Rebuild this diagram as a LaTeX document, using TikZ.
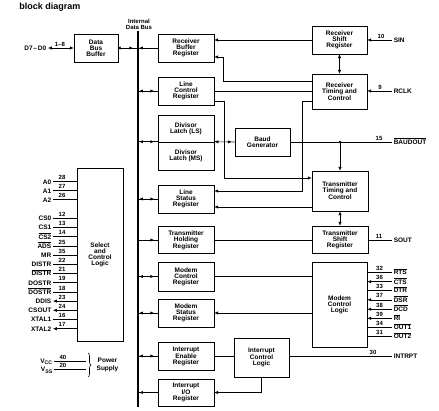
\documentclass[tikz,border=0pt]{standalone}
\usepackage{fontspec}
\setmainfont{Liberation Sans}
\usetikzlibrary{arrows.meta,decorations.markings,decorations.pathreplacing}
\newcommand{\ovl}[1]{$\overline{\mbox{#1}}$}
\newcommand{\bxf}{\fontsize{6.5}{6}\selectfont\bfseries}
\newcommand{\pnf}{\fontsize{6}{6}\selectfont\bfseries}
\newcommand{\subl}[1]{\raisebox{-1.3pt}{\fontsize{5.2}{5.2}\selectfont #1}}
\begin{document}
\begin{tikzpicture}[x=1pt,y=-1pt,line width=0.55pt,
  >={Latex[length=3.8pt,width=3.3pt]},
  box/.style={draw, inner sep=0pt, align=center, font=\bxf},
  sig/.style={inner sep=1.5pt, font=\bxf, text height=4.8pt, text depth=0pt},
  pnum/.style={inner sep=0pt, anchor=south, font=\pnf},
  busl/.style={line width=0.9pt},
  twoway/.style={postaction={decorate,decoration={markings,
      mark=at position 0.25 with {\arrow{<}},
      mark=at position 0.82 with {\arrow{>}}}}},
  tobus/.style={postaction={decorate,decoration={markings,
      mark=at position 0.25 with {\arrow{<}}}}},
  frombus/.style={postaction={decorate,decoration={markings,
      mark=at position 0.82 with {\arrow{>}}}}},
  dbbway/.style={postaction={decorate,decoration={markings,
      mark=at position 0.12 with {\arrow{<}},
      mark=at position 0.75 with {\arrow{>}}}}},
  bgway/.style={postaction={decorate,decoration={markings,
      mark=at position 0.2 with {\arrow{<}},
      mark=at position 0.85 with {\arrow{>}}}}}
]
\fill[white] (0,0) rectangle (439,410);
\useasboundingbox (0,0) rectangle (439,410);

% title
\node[anchor=west, inner sep=0pt, font=\fontsize{9}{10}\selectfont\bfseries] (title) at (19,7) {block diagram};

% internal data bus
\node[align=center, inner sep=0pt, font=\fontsize{6}{6.5}\selectfont\bfseries] (idb) at (139,24.5) {Internal\\Data Bus};
\coordinate (bt) at (138,31);
\coordinate (bb) at (138,407);
\draw[line width=1.6pt] (bt) -- (bb);

% boxes
\node[box, minimum width=44, minimum height=28] (dbb) at (96,48) {Data\\Bus\\Buffer};
\node[box, minimum width=56, minimum height=28] (rbr) at (186,48) {Receiver\\Buffer\\Register};
\node[box, minimum width=56, minimum height=28] (lcr) at (186,91) {Line\\Control\\Register};
\node[box, minimum width=56, minimum height=27] (dll) at (186,128.5) {Divisor\\Latch (LS)};
\node[box, minimum width=56, minimum height=28] (dlm) at (186,156) {Divisor\\Latch (MS)};
\node[box, minimum width=56, minimum height=28] (lsr) at (186,199) {Line\\Status\\Register};
\node[box, minimum width=56, minimum height=27] (thr) at (186,240) {Transmitter\\Holding\\Register};
\node[box, minimum width=56, minimum height=29] (mcr) at (186,276.5) {Modem\\Control\\Register};
\node[box, minimum width=56, minimum height=28] (msr) at (186,313) {Modem\\Status\\Register};
\node[box, minimum width=56, minimum height=28] (ier) at (186,356) {Interrupt\\Enable\\Register};
\node[box, minimum width=56, minimum height=27] (iir) at (186,392.5) {Interrupt\\I/O\\Register};
\node[box, minimum width=46, minimum height=173] (scl) at (100,254.5) {Select\\and\\Control\\Logic};
\node[box, minimum width=55, minimum height=28] (rsr) at (339.5,40) {Receiver\\Shift\\Register};
\node[box, minimum width=55, minimum height=35] (rtc) at (339.5,91.5) {Receiver\\Timing and\\Control};
\node[box, minimum width=55, minimum height=28] (bg) at (262.5,142) {Baud\\Generator};
\node[box, minimum width=56, minimum height=40] (ttc) at (340,191) {Transmitter\\Timing and\\Control};
\node[box, minimum width=56, minimum height=27] (tsr) at (340,239.5) {Transmitter\\Shift\\Register};
\node[box, minimum width=55, minimum height=85] (mcl) at (339.5,304.5) {Modem\\Control\\Logic};
\node[box, minimum width=55, minimum height=39] (icl) at (261.5,357.5) {Interrupt\\Control\\Logic};

% data bus buffer side
\node[sig, anchor=east] (d70) at (48,48) {D7\kern0.8pt--\kern0.8pt D0};
\draw[<->] (d70.east) -- (dbb.west);
\node[pnum] (n18) at (60,46.5) {1--8};
\draw[busl, dbbway] (dbb.east) -- (bt |- dbb.east);
\draw[busl, tobus] (bt |- rbr.west) -- (rbr.west);

% bus to registers
\draw[busl, twoway] (bt |- lcr.west) -- (lcr.west);
\draw[busl, twoway] (bt |- dlm.north west) -- (dlm.north west);
\draw[busl, twoway] (bt |- lsr.west) -- (lsr.west);
\draw[busl, frombus] (bt |- thr.west) -- (thr.west);
\draw[busl, twoway] (bt |- mcr.west) -- (mcr.west);
\draw[busl, twoway] (bt |- msr.west) -- (msr.west);
\draw[busl, twoway] (bt |- ier.west) -- (ier.west);
\draw[busl, tobus] (bt |- iir.west) -- (iir.west);

% receiver side
\node[sig, anchor=west] (sin) at (392,40) {SIN};
\node[pnum] (n10) at (381,38.5) {10};
\draw[->] (sin.west) -- (rsr.east);
\draw[->] (rsr.west) -- (rbr.east |- rsr.west);
\draw[<->] (rsr.south) -- (rtc.north);
\draw[->] (rtc.west |- 0,81) -- (223,81) -- (223,57) -- (rbr.east |- 0,57);
\node[sig, anchor=west] (rclk) at (392,91) {RCLK};
\node[pnum] (n9) at (380,89.5) {9};
\draw[->] (rclk.west) -- (rtc.east |- rclk.west);
\draw (lcr.east) -- (rtc.west |- lcr.east);
\draw[->] (lcr.east |- 0,101) -- (224,101) -- (224,178) -- (ttc.west |- 0,178);
\draw[->] (rtc.west |- 0,101) -- (302,101) -- (302,191) -- (lsr.east |- 0,191);
\draw[->] (ttc.west |- 0,207) -- (lsr.east |- 0,207);

% baud generator
\draw[bgway] (dlm.north east) -- (bg.west);
\node[sig, anchor=west] (baudout) at (392,142) {\ovl{BAUDOUT}};
\node[pnum] (n15) at (379,140.5) {15};
\coordinate (jb) at (ttc.north |- bg.east);
\draw (bg.east) -- (baudout.west);
\fill (jb) circle (1.3);
\draw[->] (jb) -- (ttc.north);

% transmitter
\draw[<->] (ttc.south) -- (tsr.north);
\draw (thr.east) -- (tsr.west |- thr.east);
\node[sig, anchor=west] (sout) at (392,240) {SOUT};
\node[pnum] (n11) at (379,238.5) {11};
\draw (tsr.east |- sout.west) -- (sout.west);

% modem
\draw (mcr.east) -- (mcl.west |- mcr.east);
\draw[->] (mcl.west |- msr.east) -- (msr.east);
\foreach \nm/\lbl/\num/\yy/\ar in {rts/{\ovl{RTS}}/32/272.3/-, cts/{\ovl{CTS}}/36/281.7/->, dtr/{\ovl{DTR}}/33/290.5/-, dsr/{\ovl{DSR}}/37/299.8/->, dcd/{\ovl{DCD}}/38/309.2/->, ri/{\ovl{RI}}/39/318.3/->, outa/{\ovl{OUT1}}/34/327.3/-, outb/{\ovl{OUT2}}/31/336.3/-}{
  \node[sig, anchor=west] (q\nm) at (392,\yy) {\lbl};
  \node[pnum] (m\nm) at (379.5,\yy-1.5) {\num};
  \draw[\ar] (q\nm.west) -- (mcl.east |- q\nm.west);
}

% interrupt
\draw (ier.east) -- (icl.west |- ier.east);
\draw[->] (icl.south) |- (iir.east);
\node[sig, anchor=west] (intrpt) at (392,356) {INTRPT};
\node[pnum] (n30) at (373,354.5) {30};
\draw (icl.east |- intrpt.west) -- (intrpt.west);

% select and control logic pins
\foreach \nm/\lbl/\num/\yy/\ar in {a0/A0/28/181.7/-, a1/A1/27/190.7/-, a2/A2/26/199.7/-, cs0/CS0/12/218.3/-, cs1/CS1/13/227.5/-, cs2/{\ovl{CS2}}/14/236.7/-, ads/{\ovl{ADS}}/25/245.9/-, mr/MR/35/255.1/-, distr/DISTR/22/264.3/-, distrn/{\ovl{DISTR}}/21/273.5/-, dostr/DOSTR/19/282.7/-, dostrn/{\ovl{DOSTR}}/18/291.9/-, ddis/DDIS/23/301.1/<-, csout/CSOUT/24/310.3/<-, xtala/XTAL1/16/319.5/-, xtalb/XTAL2/17/328.7/<-}{
  \node[sig, anchor=east] (p\nm) at (53,\yy) {\lbl};
  \node[pnum] (n\nm) at (62,\yy-1.5) {\num};
  \draw[\ar] (p\nm.east) -- (scl.west |- p\nm.east);
}

% power supply
\node[sig, anchor=east] (vcc) at (54,361) {V\subl{CC}};
\node[sig, anchor=east] (vss) at (54,369.3) {V\subl{SS}};
\coordinate (vcce) at (86,361);
\coordinate (vsse) at (86,369.3);
\draw (vcc.east) -- (vcce);
\draw (vss.east) -- (vsse);
\node[pnum] (n40) at (63,359.5) {40};
\node[pnum] (n20) at (63,367.8) {20};
\coordinate (brt) at (88,353);
\coordinate (brb) at (88,377);
\draw[decorate, decoration={brace, amplitude=3pt}] (brt) -- (brb);
\node[align=center, inner sep=0pt, font=\fontsize{6.5}{8}\selectfont\bfseries] (ps) at (107.5,365) {Power\\Supply};
\end{tikzpicture}
\end{document}
